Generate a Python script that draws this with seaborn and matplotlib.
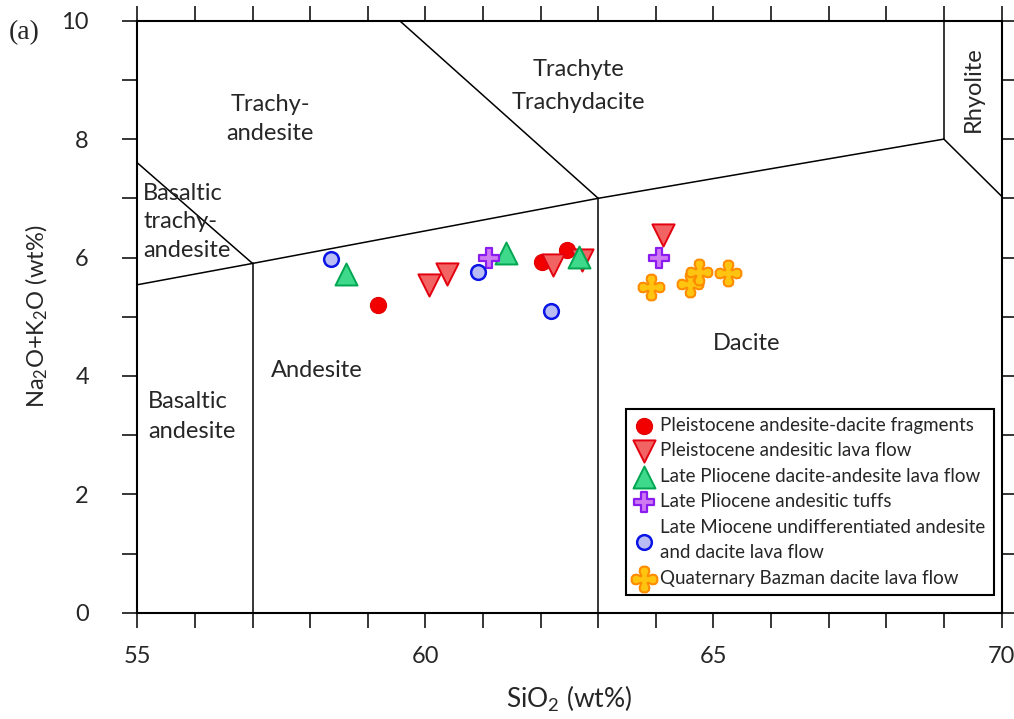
import numpy as np
import pandas as pd
import matplotlib
matplotlib.use("Agg")
import matplotlib.pyplot as plt
from matplotlib.path import Path
from matplotlib.ticker import MultipleLocator
import seaborn as sns

# --- data ---
groups = [
    "Pleistocene andesite-dacite fragments",
    "Pleistocene andesitic lava flow",
    "Late Pliocene dacite-andesite lava flow",
    "Late Pliocene andesitic tuffs",
    "Late Miocene undifferentiated andesite\nand dacite lava flow",
    "Quaternary Bazman dacite lava flow",
]
frag_sio2 = [59.18, 62.03, 62.45]
frag_alk = [5.19, 5.92, 6.13]
lava_sio2 = [60.07, 60.37, 62.22, 62.72, 64.12]
lava_alk = [5.54, 5.73, 5.87, 5.96, 6.38]
plio_lava_sio2 = [58.62, 61.40, 62.67]
plio_lava_alk = [5.73, 6.07, 6.01]
tuff_sio2 = [61.11, 64.06]
tuff_alk = [6.00, 5.99]
mio_sio2 = [58.36, 60.91, 62.18]
mio_alk = [5.98, 5.76, 5.10]
bazman_sio2 = [63.92, 64.60, 64.75, 65.26]
bazman_alk = [5.51, 5.55, 5.76, 5.74]

# TAS field boundaries (Le Bas et al. 1986)
tas_lines = [
    ([52, 57, 63, 69], [5.0, 5.9, 7.0, 8.0]),
    ([57, 57], [0, 5.9]),
    ([63, 63], [0, 7.0]),
    ([53, 57], [9.3, 5.9]),
    ([57.6, 63], [11.7, 7.0]),
    ([69, 69], [8.0, 12.0]),
    ([69, 77.3], [8.0, 0.0]),
]
field_names = ["Trachy-\nandesite", "Basaltic\ntrachy-\nandesite", "Trachyte\nTrachydacite",
               "Rhyolite", "Andesite", "Dacite", "Basaltic\nandesite"]
field_x = [57.31, 55.10, 62.65, 69.51, 58.11, 65.58, 55.19]
field_y = [8.34, 6.60, 8.90, 8.85, 4.10, 4.55, 3.32]
field_spacing = [1.43, 1.43, 1.72, 1.0, 1.0, 1.0, 1.52]

df = pd.concat([
    pd.DataFrame({"SiO2": x, "alk": y, "group": g})
    for x, y, g in zip(
        [frag_sio2, lava_sio2, plio_lava_sio2, tuff_sio2, mio_sio2, bazman_sio2],
        [frag_alk, lava_alk, plio_lava_alk, tuff_alk, mio_alk, bazman_alk],
        groups)
], ignore_index=True)

# %%
# fat rounded cross for the Bazman samples
arm = np.array([(-0.24, 0.28), (-0.38, 0.60), (-0.34, 0.86), (-0.16, 1.0),
                (0.16, 1.0), (0.34, 0.86), (0.38, 0.60), (0.24, 0.28)])
verts = []
for k in range(4):
    a = -k * np.pi / 2
    rot = np.array([[np.cos(a), -np.sin(a)], [np.sin(a), np.cos(a)]])
    verts.extend(arm @ rot.T)
verts.append(verts[0])
cross = Path(np.array(verts), closed=True)

markers = ["o", "v", "^", "P", "o", cross]
sizes = [135, 255, 250, 215, 112, 340]
faces = ["#f20000", "#f26464", "#3fd98c", "#d07af2", "#b9bdf4", "#ffc410"]
edges = ["#e00000", "#e3000f", "#00a651", "#8a1cf0", "#0a14e6", "#ff8c00"]
lws = [0.8, 1.4, 1.4, 1.6, 1.8, 1.5]

sns.set_style("ticks")
plt.rcParams["font.family"] = ["Lato", "DejaVu Sans"]
plt.rcParams["mathtext.default"] = "regular"

fig, ax = plt.subplots(figsize=(10.14, 7.19), dpi=100)
fig.subplots_adjust(left=0.1354, right=0.9877, bottom=0.1478, top=0.9712)

for xs, ys in tas_lines:
    ax.plot(xs, ys, color="black", lw=1.1, zorder=1)

for i, g in enumerate(groups):
    sub = df[df["group"] == g]
    sns.scatterplot(x=sub["SiO2"], y=sub["alk"], marker=markers[i], s=sizes[i],
                    color=faces[i], edgecolor=edges[i], linewidth=lws[i],
                    label=g, ax=ax, zorder=3)

for name, x, y, ls in zip(field_names, field_x, field_y, field_spacing):
    if name == "Rhyolite":
        ax.text(x, y, name, rotation=90, ha="center", va="center", fontsize=17)
    elif name.startswith("Basaltic"):
        ax.text(x, y, name, ha="left", va="center", fontsize=17, linespacing=ls)
    else:
        ax.text(x, y, name, ha="center", va="center", fontsize=17, linespacing=ls)

ax.set_xlim(55, 70)
ax.set_ylim(0, 10)
ax.xaxis.set_major_locator(MultipleLocator(5))
ax.xaxis.set_minor_locator(MultipleLocator(1))
ax.yaxis.set_major_locator(MultipleLocator(2))
ax.yaxis.set_minor_locator(MultipleLocator(1))
ax.tick_params(which="both", direction="out", length=10.8, width=1.1, color="black",
               top=True, right=True, labeltop=False, labelright=False)
ax.tick_params(axis="x", which="major", labelsize=17, pad=13)
ax.tick_params(axis="y", which="major", labelsize=17, pad=24)
for sp in ax.spines.values():
    sp.set_linewidth(1.5)
    sp.set_color("black")

ax.set_xlabel("SiO$_2$ (wt%)", fontsize=19, labelpad=12)
ax.set_ylabel("Na$_2$O+K$_2$O (wt%)", fontsize=17, labelpad=8)

leg = ax.legend(loc="lower right", bbox_to_anchor=(0.991, 0.03), frameon=True,
                fancybox=False, edgecolor="black", framealpha=1, fontsize=13.5,
                borderpad=0.45, handletextpad=0.35, handlelength=1.0,
                labelspacing=0.45, borderaxespad=0)
leg.get_frame().set_linewidth(1.5)
for t in leg.get_texts():
    t.set_linespacing(1.6)

fig.text(0.024, 0.955, "(a)", family="Liberation Serif", fontsize=20, ha="center", va="center")

fig.savefig("out.png", dpi=100)
